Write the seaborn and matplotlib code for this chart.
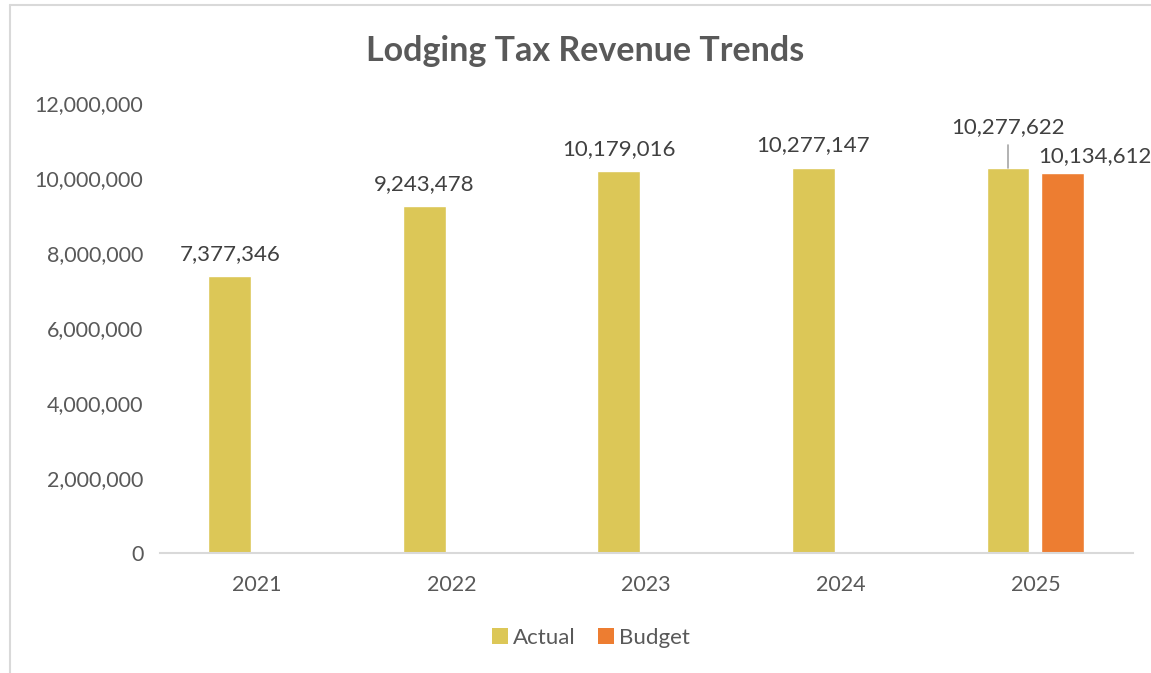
import numpy as np
import pandas as pd
import matplotlib
matplotlib.use("Agg")
import matplotlib.pyplot as plt
from matplotlib.lines import Line2D
from matplotlib.patches import Patch
import seaborn as sns

# Lodging tax revenue by fiscal year
years = ["2021", "2022", "2023", "2024", "2025"]
actual = [7377346, 9243478, 10179016, 10277147, 10277622]
budget = [np.nan, np.nan, np.nan, np.nan, 10134612]
series = ["Actual", "Budget"]
colors = ["#DCC757", "#ED7D31"]

df = pd.DataFrame({
    "Year": years * 2,
    "Series": [series[0]] * len(years) + [series[1]] * len(years),
    "Revenue": actual + budget,
})

sns.set_theme(style="white")
plt.rcParams["font.family"] = ["Lato", "DejaVu Sans"]
text_color = "#595959"

fig = plt.figure(figsize=(11.51, 6.73), dpi=100)
ax = fig.add_axes([0.139, 0.1783, 0.845, 0.6687])

sns.barplot(data=df.dropna(), x="Year", y="Revenue", hue="Series",
            order=years, hue_order=series, palette=colors,
            width=0.564, gap=0.22, dodge=True, ax=ax, legend=False,
            saturation=1, errorbar=None)

ax.set_ylim(0, 12_000_000)
ax.set_xlim(-0.5, len(years) - 0.5)
ax.set_yticks(np.arange(0, 12_000_001, 2_000_000))
ax.yaxis.set_major_formatter(matplotlib.ticker.FuncFormatter(lambda v, p: f"{int(v):,}"))
ax.tick_params(axis="both", length=0, labelsize=15.5, colors=text_color)
ax.tick_params(axis="x", pad=16)
ax.tick_params(axis="y", pad=12)
ax.set_xlabel("")
ax.set_ylabel("")
for side in ["top", "right", "left"]:
    ax.spines[side].set_visible(False)
ax.spines["bottom"].set_color("#D9D9D9")
ax.spines["bottom"].set_linewidth(1.5)
ax.grid(False)

# value labels above bars, matched to their category by bar position
label_kw = dict(ha="center", va="bottom", fontsize=16, color="#404040")
for s_idx, (cont, vals) in enumerate(zip(ax.containers, [actual, budget])):
    for bar in cont.patches:
        cx = bar.get_x() + bar.get_width() / 2
        i = int(round(cx))
        v = vals[i]
        if np.isnan(v):
            continue
        h = bar.get_height()
        if s_idx == 0 and i == len(years) - 1:
            # label lifted with a leader line
            ax.annotate(f"{v:,.0f}", xy=(cx, h), xytext=(0, 22),
                        textcoords="offset points", **label_kw)
            ax.add_line(Line2D([cx, cx], [h, h + 610_000], color="#A6A6A6", lw=1.2))
        elif s_idx == 1:
            ax.annotate(f"{v:,.0f}", xy=(cx, h), xytext=(23, 5),
                        textcoords="offset points", **label_kw)
        else:
            ax.annotate(f"{v:,.0f}", xy=(cx, h), xytext=(0, 9),
                        textcoords="offset points", **label_kw)

fig.suptitle("Lodging Tax Revenue Trends", x=0.508, y=0.948, fontsize=24.5,
             fontweight="bold", color=text_color)

handles = [Patch(facecolor=c, edgecolor="none") for c in colors]
fig.legend(handles, series, loc="center", bbox_to_anchor=(0.5135, 0.052), ncol=2,
           frameon=False, fontsize=16, handlelength=0.7, handleheight=0.7,
           handletextpad=0.25, columnspacing=1.0, labelcolor=text_color)

# outer chart frame (top and left edges)
fig.add_artist(Line2D([0.0087, 0.0087], [0.0, 0.9925], transform=fig.transFigure,
                      color="#D9D9D9", lw=1.5))
fig.add_artist(Line2D([0.0087, 1.0], [0.9925, 0.9925], transform=fig.transFigure,
                      color="#D9D9D9", lw=1.5))

fig.savefig("out.png", dpi=100, facecolor="white")
